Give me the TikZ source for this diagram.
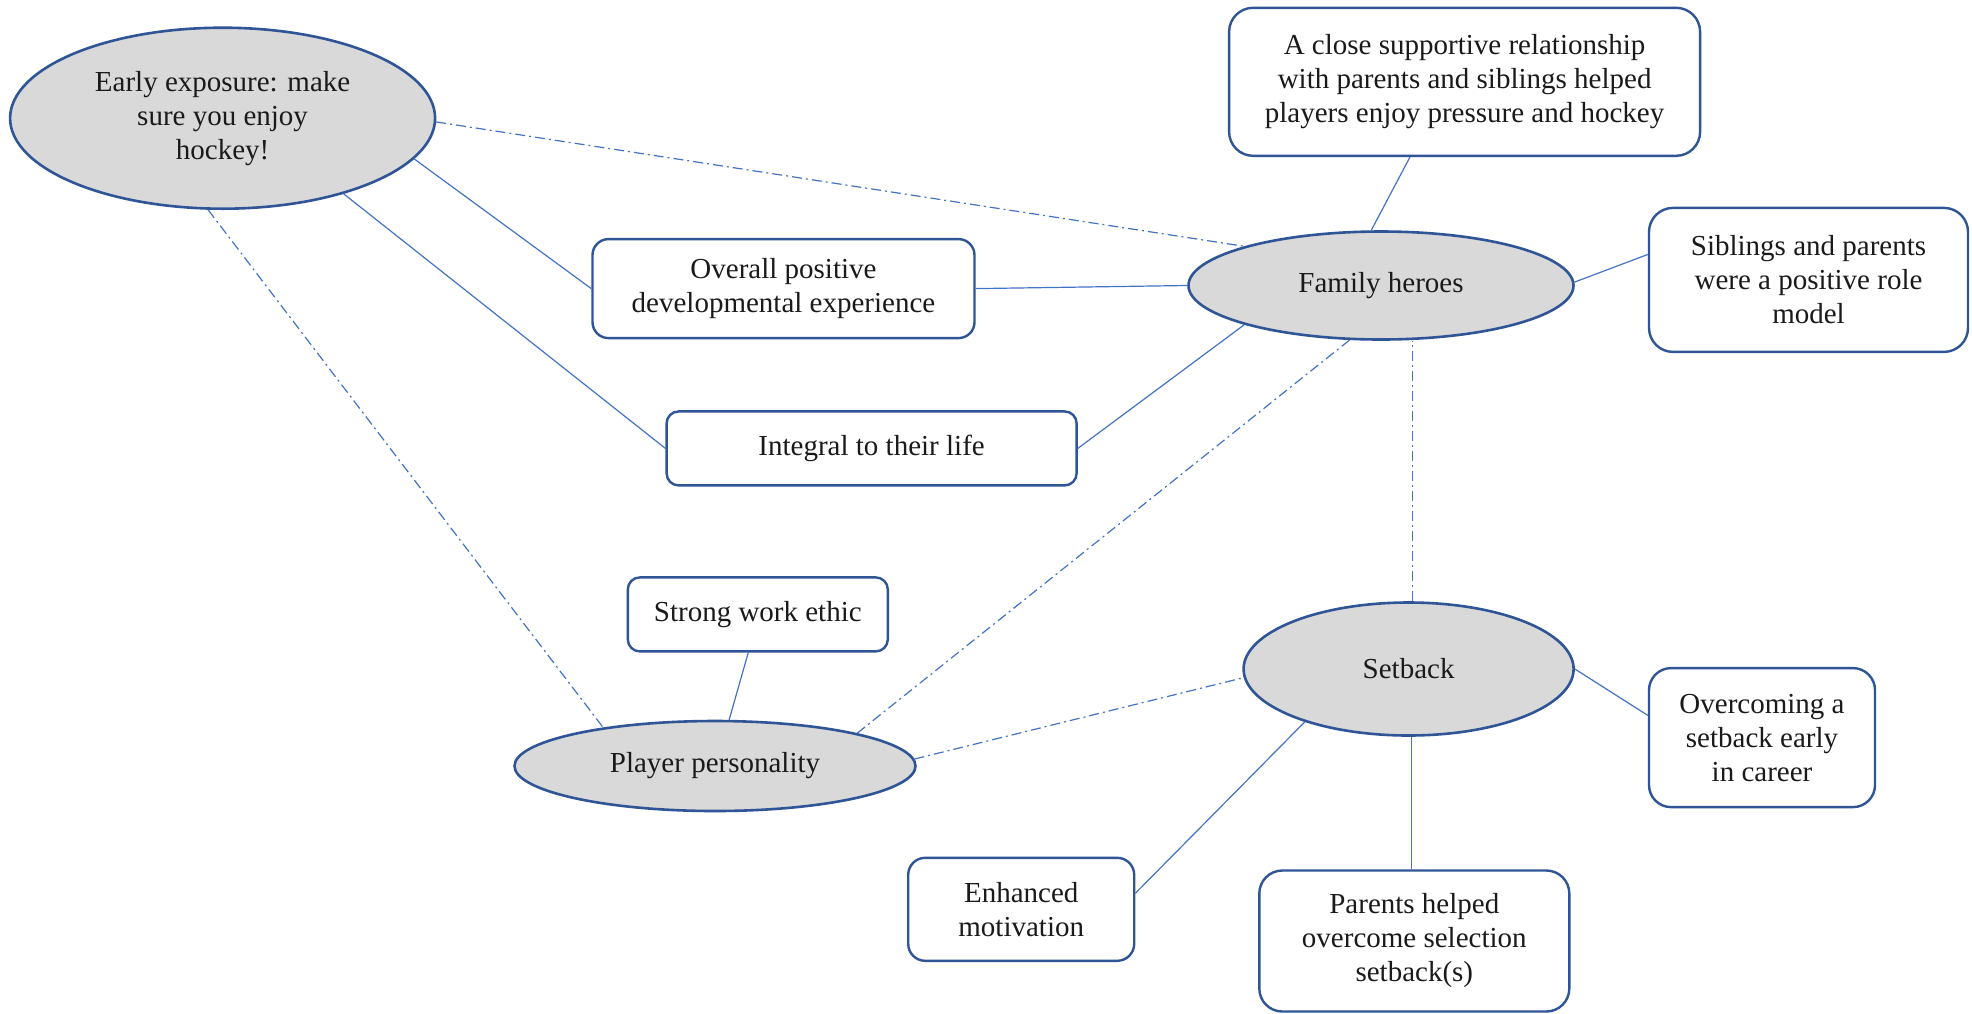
\documentclass[tikz,border=0pt]{standalone}
\usepackage{fontspec}
\setmainfont{Liberation Serif}
\usetikzlibrary{shapes.geometric}
\definecolor{edgeblue}{HTML}{2F5597}
\definecolor{linkblue}{HTML}{4472C4}
\definecolor{ellfill}{HTML}{D9D9D9}
\definecolor{txt}{HTML}{1A1A1A}
\begin{document}
\begin{tikzpicture}[x=1pt,y=-1pt,
 every node/.style={font=\fontsize{29}{34}\selectfont, text=txt, align=center, inner sep=0pt},
 theme/.style={ellipse, draw=edgeblue, line width=2.6pt, fill=ellfill},
 sub/.style={rectangle, draw=edgeblue, line width=2.4pt, fill=white},
 link/.style={draw=linkblue, line width=1.2pt},
 dlink/.style={draw=linkblue, line width=1.2pt, dash pattern=on 10pt off 4pt on 2pt off 4pt}]
\useasboundingbox[fill=white] (0,0) rectangle (1972,1013);

\node[theme, minimum width=425pt, minimum height=181pt] (ee) at (222.6,118.2) {Early exposure: make\\sure you enjoy\\hockey!};
\node[theme, minimum width=385pt, minimum height=108pt] (fh) at (1381,285.5) {Family heroes};
\node[theme, minimum width=330pt, minimum height=133pt] (sb) at (1408.6,669) {Setback};
\node[theme, minimum width=401pt, minimum height=90pt] (pp) at (715,766) {Player personality};

\node[sub, minimum width=471pt, minimum height=148pt, rounded corners=24pt] (cs) at (1464.6,81.8) {A close supportive relationship\\with parents and siblings helped\\players enjoy pressure and hockey};
\node[sub, minimum width=319pt, minimum height=144pt, rounded corners=24pt] (sp) at (1808.5,279.9) {Siblings and parents\\were a positive role\\model};
\node[sub, minimum width=382pt, minimum height=99pt, rounded corners=16pt] (op) at (783.5,288.6) {Overall positive\\developmental experience};
\node[sub, minimum width=410pt, minimum height=74pt, rounded corners=12pt] (it) at (871.6,448.4) {Integral to their life};
\node[sub, minimum width=260pt, minimum height=74pt, rounded corners=12pt] (sw) at (757.8,614.4) {Strong work ethic};
\node[sub, minimum width=226pt, minimum height=139pt, rounded corners=22pt] (oc) at (1762,737.6) {Overcoming a\\setback early\\in career};
\node[sub, minimum width=226pt, minimum height=103pt, rounded corners=17pt] (em) at (1021.2,909.3) {Enhanced\\motivation};
\node[sub, minimum width=310pt, minimum height=141pt, rounded corners=23pt] (ph) at (1414.3,941) {Parents helped\\overcome selection\\setback(s)};

\coordinate (sbn) at ([xshift=4pt]sb.north);
\coordinate (sbs) at ([xshift=3pt]sb.south);
\draw[link] (ee.-12) -- (op.west);
\draw[link] (ee.-32) -- (it.west);
\draw[link] (op.east) -- (fh.west);
\draw[link] (it.east) -- (fh.196);
\draw[link] (cs.-126.4) -- (fh.100.6);
\draw[link] (fh.1.5) -- (sp.171.2);
\draw[link] (sw.-104.4) -- (pp.73.8);
\draw[link] (sb.0) -- (oc.169.6);
\draw[link] (sb.207) -- (em.8.8);
\draw[link] (sbs) -- (sbs |- ph.north);
\draw[dlink] (ee.-1) -- (fh.164.2);
\draw[dlink] (ee.-99.5) -- (pp.161.8);
\draw[dlink] (fh.240.6) -- (pp.13.3);
\draw[dlink] (sbn) -- (sbn |- fh.south);
\draw[dlink] (pp.2) -- (sb.183.5);
\end{tikzpicture}
\end{document}
